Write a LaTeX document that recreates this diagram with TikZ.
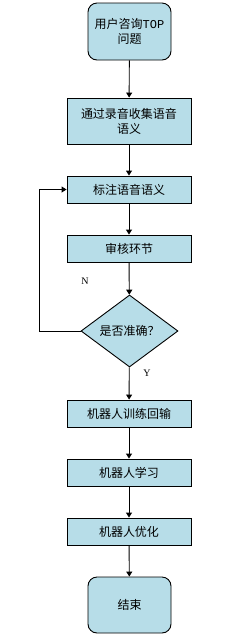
\documentclass[tikz,border=0pt]{standalone}
\usepackage{fontspec}
\setmainfont{Liberation Serif}
\newfontfamily\cjk{Noto Sans CJK SC}
\newfontfamily\latinmono{Liberation Mono}
\usetikzlibrary{calc,shapes.geometric,arrows.meta}
\definecolor{boxblue}{RGB}{183,221,232}
\tikzset{
  stepbox/.style={draw, fill=boxblue, line width=0.9pt, minimum width=124pt,
    inner sep=1pt, align=center, font=\cjk\fontsize{12}{15}\selectfont},
  endbox/.style={stepbox, rounded corners=9pt, minimum width=83pt},
  checkbox/.style={draw, fill=boxblue, line width=0.9pt, diamond, inner sep=0pt,
    minimum width=97pt, minimum height=72pt, font=\cjk\fontsize{12}{15}\selectfont},
  flow/.style={line width=0.9pt, -{Triangle[width=6pt,length=5pt]}},
  branch/.style={font=\fontsize{10}{12}\selectfont}
}
\begin{document}
\begin{tikzpicture}[x=1pt,y=1pt]
\useasboundingbox (0,0) rectangle (240,-641);
					\node (origin) at (0, 0) {};
					\node[endbox, minimum height=57pt] (start) at ($(origin) + (129.5, -31.5)$) {用户咨询{\latinmono TOP}\\问题};
					\node[stepbox, minimum height=46pt] (collect) at ($(origin) + (129, -121)$) {通过录音收集语音\\语义};
					\node[stepbox, minimum height=27pt] (mark) at ($(origin) + (129, -189.5)$) {标注语音语义};
					\node[stepbox, minimum height=27pt] (review) at ($(origin) + (129, -248.5)$) {审核环节};
					\node[checkbox] (check) at ($(origin) + (129.5, -331)$) {是否准确？};
					\node[stepbox, minimum height=27pt] (train) at ($(origin) + (129, -413.5)$) {机器人训练回输};
					\node[stepbox, minimum height=27pt] (learn) at ($(origin) + (129, -472.5)$) {机器人学习};
					\node[stepbox, minimum height=27pt] (optimize) at ($(origin) + (129, -531.5)$) {机器人优化};
					\node[endbox, minimum height=56pt] (finish) at ($(origin) + (129.5, -605)$) {结束};
					\node[branch] (no) at ($(origin) + (85, -281)$) {N};
					\node[branch] (yes) at ($(origin) + (147, -373)$) {Y};
					\coordinate (loop) at ($(origin) + (39, -331)$);

					\draw[flow] (start) -- (collect);
					\draw[flow] (collect) -- (mark);
					\draw[flow] (mark) -- (review);
					\draw[flow] (review) -- (check);
					\draw[flow] (check) -- (train);
					\draw[flow] (train) -- (learn);
					\draw[flow] (learn) -- (optimize);
					\draw[flow] (optimize) -- (finish);
					\draw[flow] (check.west) -- (loop) |- (mark.west);
				\end{tikzpicture}
\end{document}
